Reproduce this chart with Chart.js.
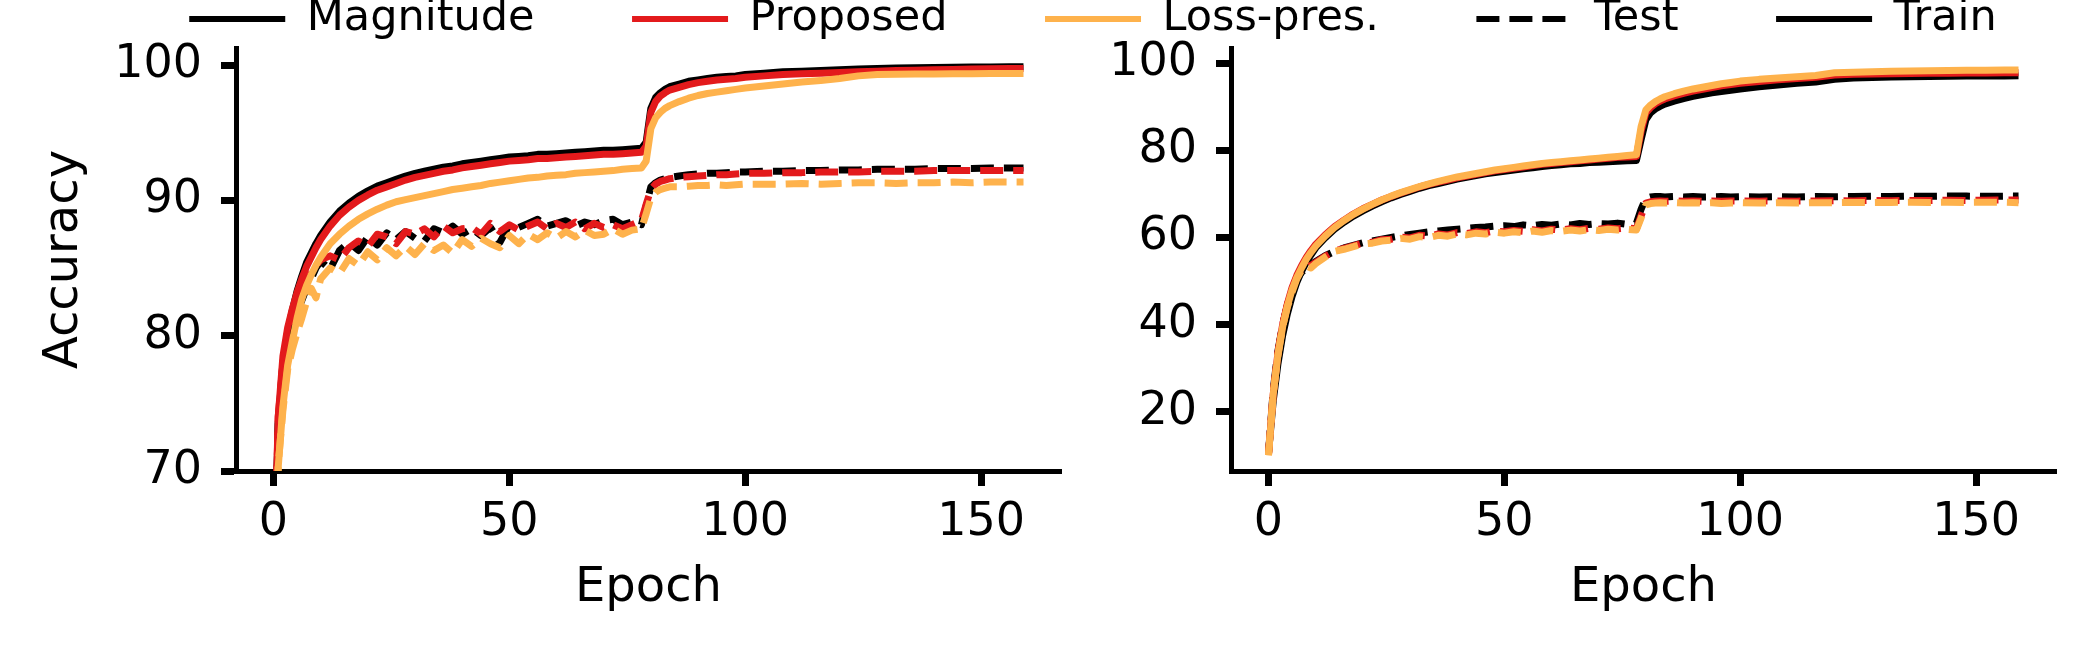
<!DOCTYPE html>
<html>
<head>
<meta charset="utf-8">
<script src="https://cdn.jsdelivr.net/npm/chart.js@4"></script>
<style>
  html, body { margin: 0; padding: 0; background: #fff; overflow: hidden; }
  body { width: 2100px; height: 660px; position: relative; }
  canvas { position: absolute; }
</style>
</head>
<body>
<canvas id="left" width="1075" height="660" style="left:0;top:0"></canvas>
<canvas id="right" width="1025" height="660" style="left:1075px;top:0"></canvas>
<canvas id="legend" width="2300" height="300" style="left:-56.75px;top:-100px"></canvas>
<script>
// epochs (dense where the curves bend)
const epochs = [0, 1, 2, 3, 4, 5, 6, 7, 8, 9, 10,
  12, 14, 16, 18, 20, 22, 24, 26, 28, 30, 32, 34, 36, 38, 40, 42, 44, 46, 48, 50,
  52, 54, 56, 58, 60, 62, 64, 66, 68, 70, 72, 74, 76, 78,
  79, 80, 81, 82, 83, 84,
  86, 88, 90, 92, 94, 96, 98, 100,
  104, 108, 112, 116, 120, 124, 128, 132, 136, 140, 144, 148, 152, 156,
  159];

// left panel, train
const leftTrainMag = [60, 73.5, 78.0, 80.3, 81.9, 83.3, 84.4, 85.4, 86.1, 86.8, 87.4,
  88.4, 89.2, 89.8, 90.3, 90.7, 91.05, 91.3, 91.55, 91.8, 92.0, 92.15, 92.3, 92.45, 92.55, 92.7, 92.8, 92.9, 93.0, 93.1, 93.2,
  93.25, 93.3, 93.4, 93.4, 93.45, 93.5, 93.55, 93.6, 93.65, 93.7, 93.7, 93.75, 93.8, 93.85,
  94.3, 96.8, 97.6, 97.95, 98.2, 98.4,
  98.6, 98.8, 98.9, 99.0, 99.1, 99.15, 99.2, 99.3,
  99.4, 99.5, 99.55, 99.6, 99.65, 99.7, 99.75, 99.78, 99.8, 99.82, 99.84, 99.85, 99.86, 99.87,
  99.88];
const leftTrainProp = [61, 74.0, 78.5, 80.6, 82.0, 83.2, 84.2, 85.1, 85.8, 86.5, 87.1,
  88.1, 88.9, 89.5, 90.0, 90.4, 90.75, 91.0, 91.25, 91.5, 91.7, 91.85, 92.0, 92.15, 92.25, 92.4, 92.5, 92.6, 92.7, 92.8, 92.9,
  92.95, 93.0, 93.1, 93.1, 93.15, 93.2, 93.25, 93.3, 93.35, 93.4, 93.4, 93.45, 93.5, 93.55,
  94.0, 96.5, 97.3, 97.7, 97.95, 98.15,
  98.35, 98.55, 98.7, 98.8, 98.9, 98.95, 99.0, 99.1,
  99.2, 99.3, 99.35, 99.4, 99.45, 99.5, 99.55, 99.6, 99.62, 99.65, 99.68, 99.7, 99.72, 99.74,
  99.75];
const leftTrainLoss = [55, 70.3, 74.8, 77.8, 79.6, 81.3, 82.7, 83.7, 84.5, 85.2, 85.8,
  86.8, 87.5, 88.1, 88.6, 89.0, 89.35, 89.65, 89.9, 90.05, 90.2, 90.35, 90.5, 90.65, 90.8, 90.9, 91.0, 91.1, 91.25, 91.35, 91.45,
  91.55, 91.65, 91.7, 91.8, 91.85, 91.9, 92.0, 92.05, 92.1, 92.15, 92.2, 92.3, 92.35, 92.4,
  92.9, 95.3, 96.1, 96.5, 96.8, 97.0,
  97.3, 97.55, 97.75, 97.9, 98.0, 98.1, 98.2, 98.3,
  98.45, 98.6, 98.75, 98.85, 99.0, 99.2, 99.3, 99.32, 99.33, 99.34, 99.35, 99.36, 99.37, 99.38,
  99.38];

// left panel, test
const leftTestMag = [58, 73.5, 77.0, 79.3, 80.8, 81.8, 82.6, 83.5, 84.2, 85.0, 85.5,
  84.9, 86.3, 86.9, 86.3, 87.3, 86.7, 87.6, 87.1, 87.7, 87.2, 87.0, 87.9, 87.6, 88.1, 87.5, 87.9, 87.4, 88.0, 86.9, 88.2,
  88.0, 88.3, 88.6, 88.1, 88.3, 88.5, 88.1, 88.4, 88.2, 88.5, 88.6, 88.2, 88.4, 88.2,
  89.6, 91.0, 91.3, 91.5, 91.6, 91.7,
  91.8, 91.9, 91.95, 92.0, 92.0, 92.05, 92.1, 92.1,
  92.15, 92.15, 92.2, 92.2, 92.25, 92.25, 92.3, 92.3, 92.3, 92.35, 92.35, 92.35, 92.4, 92.4,
  92.4];
const leftTestProp = [59, 74.0, 78.0, 80.0, 81.0, 82.4, 83.3, 84.0, 84.6, 85.2, 85.6,
  85.9, 85.6, 86.5, 87.0, 86.6, 87.5, 87.3, 86.8, 87.7, 87.5, 87.9, 87.3, 88.1, 87.6, 87.9, 88.0, 87.5, 88.3, 87.7, 88.2,
  87.8, 88.1, 88.4, 87.9, 88.3, 88.0, 88.4, 87.9, 88.3, 88.0, 88.2, 87.9, 88.2, 88.5,
  89.7, 90.8, 91.2, 91.4, 91.5, 91.6,
  91.7, 91.75, 91.8, 91.85, 91.9, 91.9, 91.95, 92.0,
  92.0, 92.05, 92.05, 92.1, 92.1, 92.1, 92.15, 92.15, 92.15, 92.2, 92.2, 92.2, 92.2, 92.2,
  92.2];
const leftTestLoss = [54, 70.5, 74.5, 77.5, 79.0, 80.2, 81.3, 82.5, 83.5, 82.8, 84.2,
  85.0, 84.6, 85.7, 85.2, 86.2, 85.6, 86.5, 85.9, 86.6, 86.0, 86.8, 86.3, 86.7, 86.1, 87.1, 86.6, 87.2, 86.8, 86.5, 87.4,
  86.8, 87.5, 87.1, 87.6, 87.2, 87.7, 87.3, 87.8, 87.4, 87.5, 87.9, 87.5, 87.8, 87.9,
  89.0, 90.2, 90.6, 90.8, 90.9, 91.0,
  91.0, 91.05, 91.1, 91.1, 91.15, 91.1, 91.15, 91.2,
  91.2, 91.2, 91.25, 91.2, 91.25, 91.3, 91.3, 91.25, 91.3, 91.3, 91.35, 91.3, 91.35, 91.35,
  91.35];

// right panel, train
const rightTrainMag = [10.5, 22.5, 31.0, 37.5, 42.5, 46.5, 49.7, 52.2, 54.3, 56.0, 57.6,
  59.9, 61.9, 63.5, 64.9, 66.1, 67.2, 68.2, 69.1, 69.9, 70.6, 71.3, 71.9, 72.4, 72.9, 73.4, 73.8, 74.2, 74.6, 74.9, 75.2,
  75.5, 75.8, 76.0, 76.3, 76.5, 76.7, 76.9, 77.0, 77.2, 77.3, 77.4, 77.5, 77.6, 77.7,
  82.5, 87.0, 88.6, 89.5, 90.1, 90.6,
  91.3, 91.9, 92.4, 92.8, 93.2, 93.5, 93.8, 94.1,
  94.6, 95.0, 95.4, 95.7, 96.3, 96.6, 96.75, 96.85, 96.9, 96.95, 97.0, 97.05, 97.1, 97.1,
  97.15];
const rightTrainProp = [10.3, 24.0, 33.5, 40.0, 44.8, 48.5, 51.3, 53.5, 55.4, 57.0, 58.4,
  60.6, 62.5, 64.0, 65.4, 66.6, 67.6, 68.6, 69.4, 70.2, 70.9, 71.6, 72.2, 72.7, 73.2, 73.7, 74.1, 74.5, 74.9, 75.3, 75.6,
  75.9, 76.2, 76.5, 76.8, 77.0, 77.2, 77.4, 77.6, 77.8, 78.0, 78.2, 78.4, 78.5, 78.6,
  84.5, 88.6, 89.8, 90.7, 91.3, 91.8,
  92.5, 93.1, 93.6, 94.0, 94.4, 94.8, 95.1, 95.4,
  95.8, 96.2, 96.5, 96.8, 97.3, 97.45, 97.55, 97.6, 97.65, 97.7, 97.72, 97.75, 97.78, 97.8,
  97.8];
const rightTrainLoss = [10.0, 24.0, 33.0, 39.5, 44.3, 48.0, 50.8, 53.0, 55.0, 56.6, 58.0,
  60.3, 62.3, 63.9, 65.3, 66.5, 67.6, 68.6, 69.5, 70.3, 71.0, 71.7, 72.3, 72.9, 73.4, 73.9, 74.3, 74.7, 75.1, 75.5, 75.8,
  76.1, 76.4, 76.7, 77.0, 77.2, 77.4, 77.6, 77.8, 78.0, 78.2, 78.4, 78.6, 78.8, 79.0,
  85.5, 89.3, 90.4, 91.2, 91.8, 92.3,
  93.0, 93.6, 94.1, 94.5, 94.9, 95.3, 95.6, 95.9,
  96.3, 96.6, 96.9, 97.2, 97.8, 97.95, 98.05, 98.15, 98.2, 98.3, 98.35, 98.4, 98.4, 98.45,
  98.45];

// right panel, test
const rightTestMag = [10.5, 25.0, 34.0, 40.0, 44.5, 48.0, 50.5, 52.0, 53.0, 53.8, 54.5,
  55.8, 56.8, 57.6, 58.2, 58.8, 59.2, 59.6, 60.0, 60.4, 60.7, 61.0, 61.3, 61.5, 61.7, 61.9, 62.1, 62.3, 62.4, 62.6, 62.7,
  62.5, 62.9, 62.7, 63.0, 62.8, 63.1, 62.9, 63.2, 63.0, 63.2, 63.1, 63.3, 63.0, 63.3,
  66.5, 69.0, 69.3, 69.4, 69.4, 69.3,
  69.4, 69.3, 69.4, 69.3, 69.35, 69.4, 69.3, 69.35,
  69.3, 69.35, 69.3, 69.4, 69.35, 69.4, 69.45, 69.4, 69.5, 69.45, 69.5, 69.5, 69.45, 69.5,
  69.5];
const rightTestProp = [10.2, 24.5, 33.5, 40.0, 44.5, 48.0, 50.8, 52.8, 53.0, 53.6, 54.3,
  55.7, 56.9, 57.5, 58.1, 58.7, 58.9, 59.5, 59.6, 60.1, 59.9, 60.5, 60.3, 60.8, 60.6, 61.1, 60.9, 61.3, 61.1, 61.5, 61.3,
  61.6, 61.4, 61.8, 61.5, 61.9, 61.7, 62.0, 61.8, 62.1, 61.9, 62.2, 62.0, 62.2, 62.0,
  65.0, 67.9, 68.2, 68.3, 68.4, 68.3,
  68.4, 68.3, 68.4, 68.3, 68.4, 68.3, 68.4, 68.4,
  68.35, 68.4, 68.35, 68.4, 68.45, 68.4, 68.5, 68.45, 68.5, 68.5, 68.55, 68.5, 68.55, 68.6,
  68.6];
const rightTestLoss = [10.0, 24.0, 33.0, 39.5, 44.0, 47.5, 50.5, 52.5, 53.5, 53.0, 54.0,
  55.5, 56.8, 57.3, 57.9, 58.5, 58.7, 59.2, 59.4, 59.8, 59.6, 60.2, 60.0, 60.5, 60.3, 60.8, 60.6, 61.0, 60.8, 61.2, 61.0,
  61.3, 61.1, 61.5, 61.2, 61.6, 61.4, 61.7, 61.5, 61.8, 61.6, 61.9, 61.7, 61.9, 61.7,
  64.5, 67.5, 67.8, 67.9, 68.0, 67.9,
  68.0, 67.9, 68.0, 67.9, 68.0, 67.8, 67.9, 68.0,
  67.9, 68.0, 67.9, 68.0, 68.0, 68.05, 68.0, 68.05, 68.1, 68.05, 68.1, 68.05, 68.1, 68.1,
  68.0];

const xTicks = [0, 50, 100, 150];
const leftYTicks = [70, 80, 90, 100];
const rightYTicks = [20, 40, 60, 80, 100];

const legendNames = ['Magnitude', 'Proposed', 'Loss-pres.', 'Test', 'Train'];
const legendColors = ['#000000', '#e31a1c', '#feb24c', '#000000', '#000000'];
const legendDashes = [[], [], [], [23, 10], []];

const BLACK = '#000000', RED = '#e31a1c', ORANGE = '#feb24c';
const DASH = [23, 10];
const FAMILY = "'DejaVu Sans'";
const tickFont = { family: FAMILY, size: 46 };
const titleFont = { family: FAMILY, size: 48 };

const axisGrid = { display: true, drawOnChartArea: false, drawTicks: true, tickLength: 15, tickWidth: 7, tickColor: '#000' };
const axisBorder = { display: true, color: '#000', width: 5 };

function line(values, color, dash) {
  return {
    data: epochs.map((e, i) => ({ x: e, y: values[i] })),
    borderColor: color,
    borderWidth: 7,
    borderDash: dash,
    borderJoinStyle: 'round',
    pointRadius: 0,
    tension: 0,
    fill: false
  };
}

function panel(id, sets, yMin, yMax, yTicks, yTitle, yWidth, padRight) {
  // first dataset is drawn on top
  return new Chart(document.getElementById(id), {
    type: 'line',
    data: { datasets: sets },
    options: {
      responsive: false,
      animation: false,
      devicePixelRatio: 1,
      layout: { padding: { left: 0, right: padRight, top: 48, bottom: 0 } },
      plugins: { legend: { display: false }, tooltip: { enabled: false } },
      scales: {
        x: {
          type: 'linear', min: -7.95, max: 166.95,
          afterBuildTicks: s => { s.ticks = xTicks.map(v => ({ value: v })); },
          afterFit: s => { s.height = 189; },
          ticks: { font: tickFont, color: '#000', padding: 9, maxRotation: 0 },
          grid: axisGrid,
          border: axisBorder,
          title: { display: true, text: 'Epoch', font: titleFont, color: '#000', padding: { top: 0, bottom: 43 } }
        },
        y: {
          type: 'linear', min: yMin, max: yMax,
          afterBuildTicks: s => { s.ticks = yTicks.map(v => ({ value: v })); },
          afterFit: s => { s.width = yWidth; },
          ticks: { font: tickFont, color: '#000', padding: 19 },
          grid: axisGrid,
          border: axisBorder,
          title: { display: !!yTitle, text: yTitle, font: titleFont, color: '#000', padding: { top: 36, bottom: 0 } }
        }
      }
    }
  });
}

panel('left', [
  line(leftTestLoss, ORANGE, DASH),
  line(leftTrainLoss, ORANGE, []),
  line(leftTestProp, RED, DASH),
  line(leftTrainProp, RED, []),
  line(leftTestMag, BLACK, DASH),
  line(leftTrainMag, BLACK, [])
], 70, 101.26, leftYTicks, 'Accuracy', 236, 14);

panel('right', [
  line(rightTestLoss, ORANGE, DASH),
  line(rightTrainLoss, ORANGE, []),
  line(rightTestProp, RED, DASH),
  line(rightTrainProp, RED, []),
  line(rightTestMag, BLACK, DASH),
  line(rightTrainMag, BLACK, [])
], 6.4, 103.5, rightYTicks, '', 156, 44);

// shared legend across the top
new Chart(document.getElementById('legend'), {
  type: 'line',
  data: {
    datasets: legendNames.map((n, i) => ({ label: n, data: [], borderColor: legendColors[i] }))
  },
  options: {
    responsive: false,
    animation: false,
    devicePixelRatio: 1,
    scales: { x: { display: false }, y: { display: false } },
    plugins: {
      tooltip: { enabled: false },
      legend: {
        display: true, position: 'top',
        labels: {
          usePointStyle: true, pointStyleWidth: 96,
          padding: 97.5, color: '#000', font: { family: FAMILY, size: 43 },
          generateLabels: () => legendNames.map((n, i) => ({
            text: n,
            datasetIndex: i,
            hidden: false,
            pointStyle: 'line',
            strokeStyle: legendColors[i],
            fillStyle: legendColors[i],
            fontColor: '#000',
            lineWidth: 6,
            lineDash: legendDashes[i],
            lineCap: 'butt'
          }))
        }
      }
    }
  }
});
</script>
</body>
</html>
